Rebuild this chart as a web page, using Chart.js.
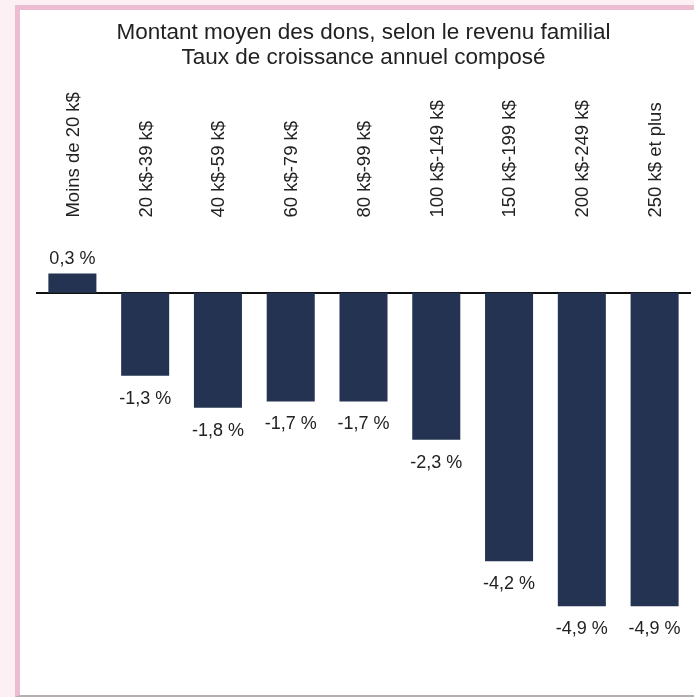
<!DOCTYPE html>
<html>
<head>
<meta charset="utf-8">
<script src="https://cdn.jsdelivr.net/npm/chart.js@4.4.1/dist/chart.umd.min.js"></script>
<style>
  html, body { margin: 0; padding: 0; background: #fcf0f5; }
  .frame {
    position: absolute; left: 15px; top: 5px;
    width: 674px; height: 685px;
    background: #fff;
    border-left: 5px solid #ebbcd2;
    border-top: 5px solid #ebbcd2;
    border-bottom: 2px solid #b7aeb2;
  }
  .box { position: absolute; left: 0; top: 0; width: 674px; height: 685px; }
</style>
</head>
<body>
<div class="frame">
  <div class="box"><canvas id="myChart"></canvas></div>
</div>
<script>
const categories = [
  "Moins de 20 k$", "20 k$-39 k$", "40 k$-59 k$", "60 k$-79 k$", "80 k$-99 k$",
  "100 k$-149 k$", "150 k$-199 k$", "200 k$-249 k$", "250 k$ et plus"
];
// taux de croissance annuel composé, en %
const growthRates = [0.3, -1.3, -1.8, -1.7, -1.7, -2.3, -4.2, -4.9, -4.9];
const titleLines = ["Montant moyen des dons, selon le revenu familial", "Taux de croissance annuel composé"];

const FONT = "'Liberation Sans', Arial, Helvetica, sans-serif";
const fmt = v => v.toFixed(1).replace(".", ",") + " %";

// valeurs au bout des barres
const valueLabels = {
  id: "valueLabels",
  afterDatasetsDraw(chart) {
    const ctx = chart.ctx;
    const meta = chart.getDatasetMeta(0);
    ctx.save();
    ctx.font = "18px " + FONT;
    ctx.fillStyle = "#222";
    ctx.textAlign = "center";
    meta.data.forEach((bar, i) => {
      const v = growthRates[i];
      if (v >= 0) {
        ctx.textBaseline = "bottom";
        ctx.fillText(fmt(v), bar.x, bar.y - 6);
      } else {
        ctx.textBaseline = "top";
        ctx.fillText(fmt(v), bar.x, bar.y + 14);
      }
    });
    ctx.restore();
  }
};

const ctx = document.getElementById("myChart");
const myChart = new Chart(ctx, {
  type: "bar",
  data: {
    labels: categories,
    datasets: [{
      data: growthRates,
      backgroundColor: "#243352",
      barPercentage: 0.66,
      categoryPercentage: 1
    }]
  },
  options: {
    responsive: true,
    maintainAspectRatio: false,
    animation: false,
    layout: { padding: { left: 16, right: 3, top: 0, bottom: 18.5 } },
    plugins: {
      legend: { display: false },
      tooltip: { enabled: false },
      title: {
        display: true,
        text: titleLines,
        color: "#222",
        font: { family: FONT, size: 22.5, weight: "normal", lineHeight: 1.13 },
        padding: { top: 10, bottom: 6 }
      }
    },
    scales: {
      x: {
        position: "top",
        afterFit: s => { s.height = 164.7; },
        grid: { display: false, drawTicks: false },
        border: { display: false },
        ticks: {
          minRotation: 90,
          maxRotation: 90,
          autoSkip: false,
          padding: 24,
          labelOffset: 23.5,
          color: "#222",
          font: { family: FONT, size: 18.5 }
        }
      },
      y: {
        min: -6,
        max: 0.8,
        ticks: { display: false, stepSize: 0.2 },
        border: { display: false },
        grid: {
          drawTicks: false,
          lineWidth: 2,
          color: c => c.tick && Math.abs(c.tick.value) < 1e-9 ? "#111" : "rgba(0,0,0,0)"
        }
      }
    }
  },
  plugins: [valueLabels]
});
</script>
</body>
</html>
